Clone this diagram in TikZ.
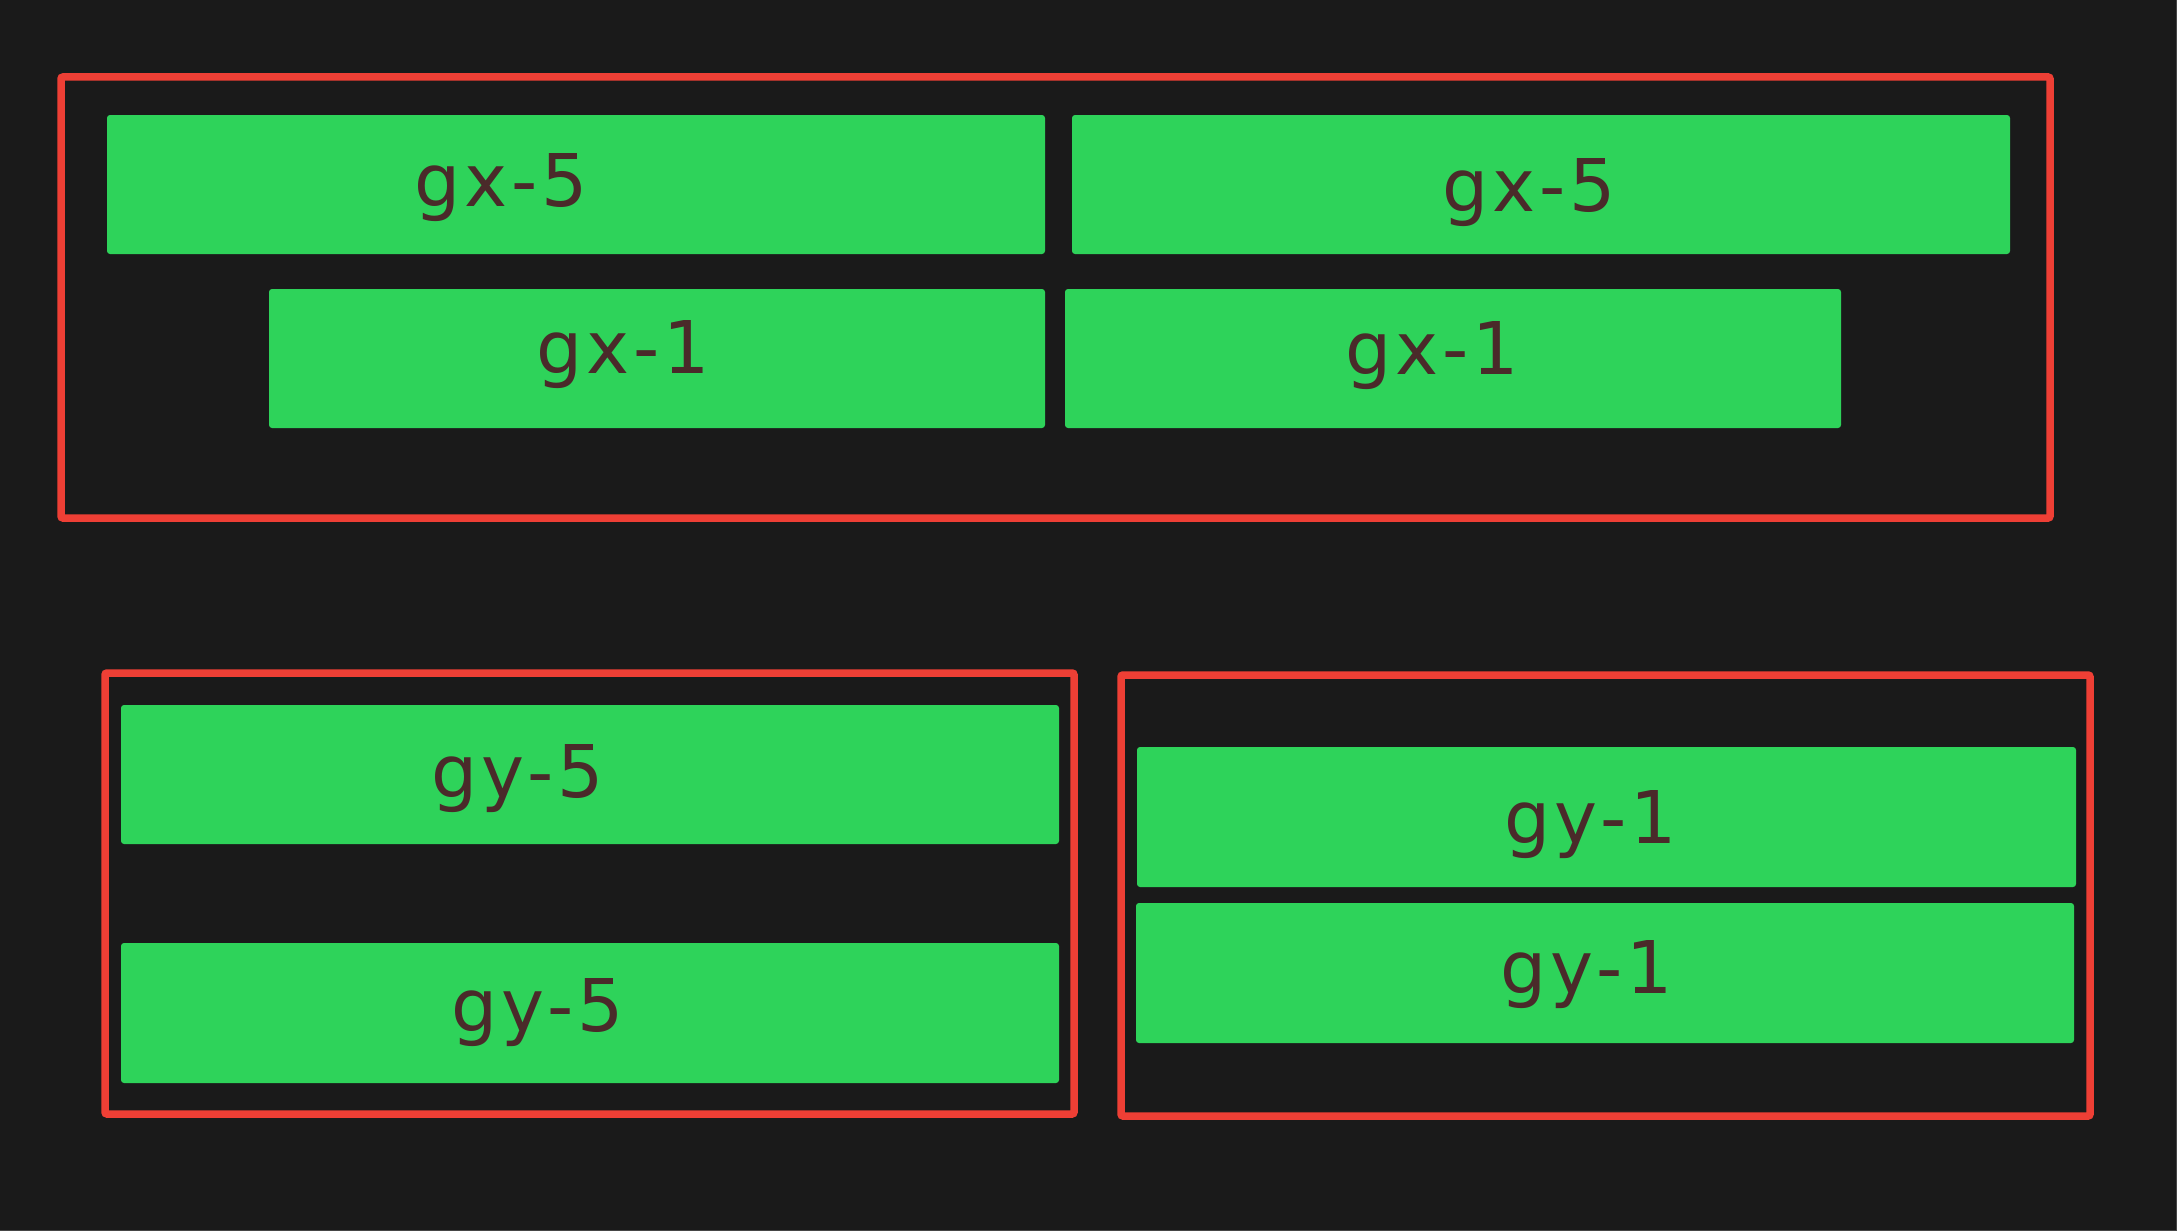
\documentclass[tikz,border=0pt]{standalone}
\usepackage{fontspec}
\setmainfont{DejaVu Sans}[LetterSpace=5.5]
\definecolor{bg}{RGB}{26,26,26}
\definecolor{gfill}{RGB}{46,211,90}
\definecolor{rline}{RGB}{238,63,53}
\definecolor{txt}{RGB}{74,42,42}
\definecolor{edge}{RGB}{70,70,70}
\tikzset{
  gbox/.style={fill=gfill, rounded corners=3pt, inner sep=0pt, outer sep=0pt, draw=none},
  rbox/.style={draw=rline, line width=7.5pt, rounded corners=2pt, inner sep=0pt, outer sep=0pt},
  lbl/.style={anchor=base, text=txt, inner sep=0pt, font=\fontsize{72.7}{80}\selectfont}
}
\begin{document}
\begin{tikzpicture}[x=1pt,y=-1pt]
\fill[bg] (0,0) rectangle (2177,1231);
\useasboundingbox (0,0) rectangle (2177,1231);
\draw[edge, line width=1.5pt] (0,1230.25) -- (2176.25,1230.25) -- (2176.25,0);
% red frames
\node[rbox, minimum width=1989pt, minimum height=441pt] (topframe) at (1055.5,297.5) {};
\node[rbox, minimum width=969pt, minimum height=441pt] (llframe) at (589.5,893.5) {};
\node[rbox, minimum width=969pt, minimum height=441pt] (lrframe) at (1605.5,895.5) {};
% green boxes
\node[gbox, minimum width=938pt, minimum height=139pt] (gx5a) at (576,184.5) {};
\node[gbox, minimum width=938pt, minimum height=139pt] (gx5b) at (1541,184.5) {};
\node[gbox, minimum width=776pt, minimum height=139pt] (gx1a) at (657,358.5) {};
\node[gbox, minimum width=776pt, minimum height=139pt] (gx1b) at (1453,358.5) {};
\node[gbox, minimum width=938pt, minimum height=139pt] (gy5a) at (590,774.5) {};
\node[gbox, minimum width=938pt, minimum height=140pt] (gy5b) at (590,1013) {};
\node[gbox, minimum width=939pt, minimum height=140pt] (gy1a) at (1606.5,817) {};
\node[gbox, minimum width=938pt, minimum height=140pt] (gy1b) at (1605,973) {};
% labels
\node[lbl] (tgx5a) at (501,206) {gx-5};
\node[lbl] (tgx5b) at (1529,211.5) {gx-5};
\node[lbl] (tgx1a) at (623,373.6) {gx-1};
\node[lbl] (tgx1b) at (1432,374.8) {gx-1};
\node[lbl] (tgy5a) at (518,797) {gy-5};
\node[lbl] (tgy5b) at (538,1031) {gy-5};
\node[lbl] (tgy1a) at (1591,843) {gy-1};
\node[lbl] (tgy1b) at (1587,993) {gy-1};
\end{tikzpicture}
\end{document}
